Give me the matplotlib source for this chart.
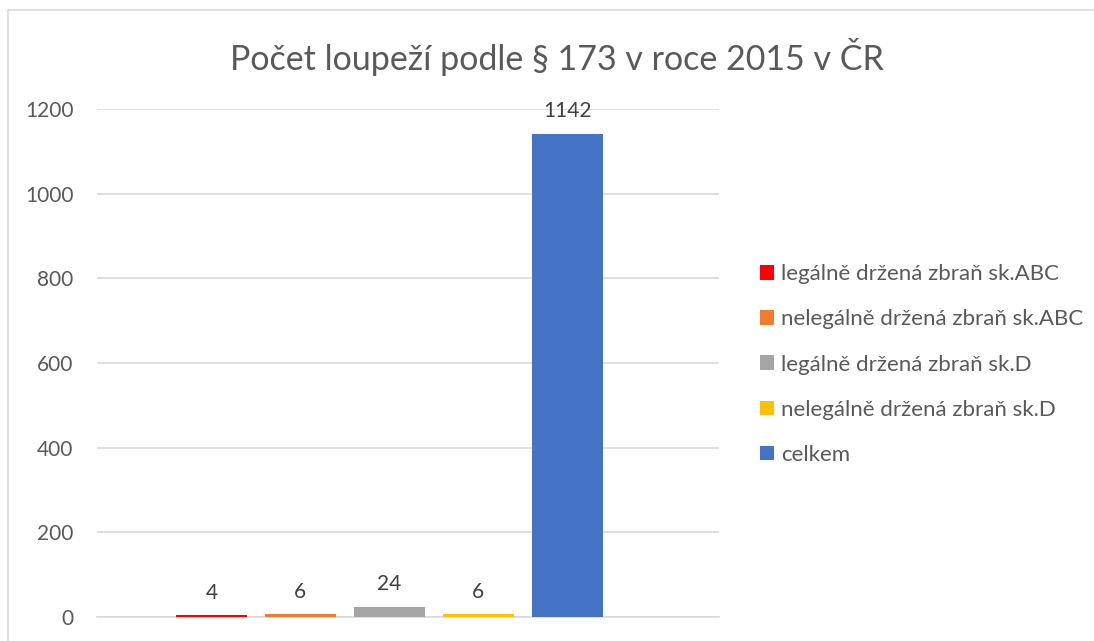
import matplotlib
matplotlib.use("Agg")
import matplotlib.pyplot as plt
from matplotlib.patches import Rectangle

W, H = 1094, 641
series = ["legálně držená zbraň sk.ABC", "nelegálně držená zbraň sk.ABC",
          "legálně držená zbraň sk.D", "nelegálně držená zbraň sk.D", "celkem"]
values = [4, 6, 24, 6, 1142]
colors = ["#FF0000", "#ED7D31", "#A5A5A5", "#FFC000", "#4472C4"]
yticks = [0, 200, 400, 600, 800, 1000, 1200]
title = "Počet loupeží podle § 173 v roce 2015 v ČR"

plt.rcParams['font.family'] = ['Lato', 'DejaVu Sans']
txt = "#595959"

fig = plt.figure(figsize=(W / 100, H / 100), dpi=100)
fig.patches.append(Rectangle((8 / W, -0.1), 1.2, 1 - 10 / H + 0.1, transform=fig.transFigure,
                             fill=False, edgecolor="#D9D9D9", linewidth=1.2))

def px(x0, y0, x1, y1):
    return [x0 / W, 1 - y1 / H, (x1 - x0) / W, (y1 - y0) / H]

ax = fig.add_axes(px(97, 109, 719, 617))
handles = []
for i, (s, v, c) in enumerate(zip(series, values, colors)):
    b = ax.bar(i, v, width=0.8, color=c, label=s, zorder=3)
    handles.append(b)
    ax.annotate(str(v), (i, v), xytext=(0, 9), textcoords="offset points",
                ha="center", va="bottom", fontsize=15, color="#404040")

ax.set_xlim(-1.288, 5.709)
ax.set_ylim(0, 1200)
ax.set_yticks(yticks)
ax.set_yticklabels([str(t) for t in yticks], fontsize=15, color=txt)
ax.set_xticks([])
ax.tick_params(axis="y", length=0, pad=17)
ax.grid(axis="y", color="#D9D9D9", linewidth=1.2, zorder=0)
for sp in ["top", "right", "left"]:
    ax.spines[sp].set_visible(False)
ax.spines["bottom"].set_color("#D9D9D9")
ax.spines["bottom"].set_linewidth(1.2)

fig.text(557 / W, 1 - 57 / H, title, ha="center", va="center", fontsize=24.5,
         color=txt, family=['Lato', 'DejaVu Sans'])

leg = fig.legend(handles=handles, labels=series, loc="center left",
                 bbox_to_anchor=(760 / W, 1 - 364.5 / H), frameon=False,
                 fontsize=16, labelcolor=txt, handlelength=0.63, handleheight=0.63,
                 handletextpad=0.32, labelspacing=1.13, borderpad=0, borderaxespad=0)

fig.savefig("out.png", dpi=100, facecolor="white")
